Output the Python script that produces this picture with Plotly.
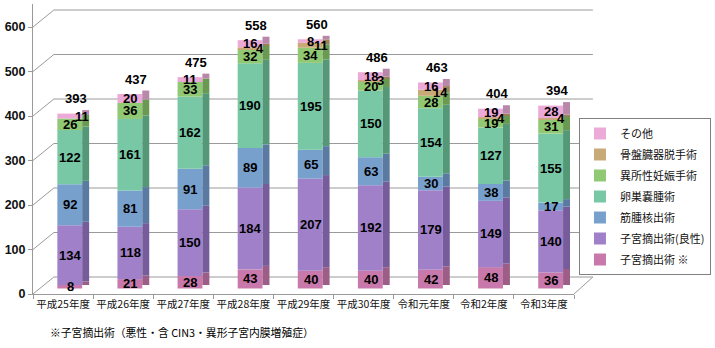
import plotly.graph_objects as go
import numpy as np

categories = ["平成25年度", "平成26年度", "平成27年度", "平成28年度", "平成29年度",
              "平成30年度", "令和元年度", "令和2年度", "令和3年度"]

series_names = ["子宮摘出術 ※", "子宮摘出術(良性)", "筋腫核出術", "卵巣嚢腫術",
                "異所性妊娠手術", "骨盤臓器脱手術", "その他"]

hyst_malignant = [8, 21, 28, 43, 40, 40, 42, 48, 36]
hyst_benign = [134, 118, 150, 184, 207, 192, 179, 149, 140]
myomectomy = [92, 81, 91, 89, 65, 63, 30, 38, 17]
ovarian_cyst = [122, 161, 162, 190, 195, 150, 154, 127, 155]
ectopic = [26, 36, 33, 32, 34, 20, 28, 19, 31]
pelvic_prolapse = [0, 0, 0, 4, 11, 3, 14, 4, 4]
other = [11, 20, 11, 16, 8, 18, 16, 19, 28]

totals = [393, 437, 475, 558, 560, 486, 463, 404, 394]

y_ticks = [0, 100, 200, 300, 400, 500, 600]

footnote = "※子宮摘出術（悪性・含 CIN3・異形子宮内膜増殖症）"

# ---- styling ----
front_colors = ["#C878AA", "#A080C8", "#78A0CD", "#78C8A5", "#91C873", "#C8AA78", "#EBAAD7"]
side_colors = ["#9C5E86", "#765C9A", "#5A7AA2", "#559878", "#6A9A52", "#9A8258", "#B888AA"]

series = [hyst_malignant, hyst_benign, myomectomy, ovarian_cyst, ectopic, pelvic_prolapse, other]

num_font = dict(family="Liberation Sans Narrow, Liberation Sans, Arial", size=13, color="#000000", weight="bold")
jp_font = "Noto Sans CJK JP"

K = 0.445            # px per unit
PLOT_H = 290
bar_r0 = -5.5 / K
label_range = [0, PLOT_H / K]
bar_range = [bar_r0, bar_r0 + PLOT_H / K]
BACK = 17 / K        # back wall offset in units
SIDE_LIFT = 3.5 / K

front_off, front_w = -0.095, 0.413
side_off, side_w = front_off + front_w, 0.116

fig = go.Figure()
bottoms = np.zeros(len(categories))
annotations = []
for idx, (name, vals) in enumerate(zip(series_names, series)):
    vals = np.array(vals, dtype=float)
    fig.add_trace(go.Bar(
        x=categories, y=vals, base=bottoms.copy(), name=name,
        marker=dict(color=front_colors[idx], line=dict(width=0)),
        width=front_w, offset=front_off, legendgroup=name, legendrank=100 - idx,
        hoverinfo="skip"))
    fig.add_trace(go.Bar(
        x=categories, y=vals, base=bottoms + SIDE_LIFT, name=name + "_side",
        marker=dict(color=side_colors[idx], line=dict(width=0)),
        width=side_w, offset=side_off, legendgroup=name, showlegend=False,
        legendrank=100 - idx, hoverinfo="skip"))
    for i, v in enumerate(vals):
        if v <= 0:
            continue
        xs = 7
        if idx == 5:
            xs = 17
        elif idx == 6 and i == 0:
            xs = 19
        annotations.append(dict(
            x=categories[i], y=bottoms[i] + v / 2, xref="x", yref="y",
            text=str(int(v)), showarrow=False, xshift=xs,
            font=num_font))
    bottoms = bottoms + vals

for i, t in enumerate(totals):
    annotations.append(dict(
        x=categories[i], y=bottoms[i], xref="x", yref="y", text=str(t),
        showarrow=False, xshift=13, yshift=15, font=num_font))

annotations.append(dict(
    x=(48 - 33) / 545, y=(294 - 332) / 290, xref="paper", yref="paper",
    xanchor="left", yanchor="middle", text=footnote, showarrow=False,
    font=dict(family=jp_font, size=10.8, color="#000000")))

# dummy trace to register label axis
fig.add_trace(go.Scatter(x=[], y=[], yaxis="y2", showlegend=False, hoverinfo="skip"))

shapes = []
gx0 = 21 / 545
gx1 = (597 - 33) / 545
for v in y_ticks:
    shapes.append(dict(type="line", xref="paper", yref="y2", x0=gx0, x1=gx1,
                       y0=v + BACK, y1=v + BACK, layer="below",
                       line=dict(color="#9A9A9A", width=1)))
    shapes.append(dict(type="line", xref="paper", yref="y2", x0=0, x1=gx0,
                       y0=v, y1=v + BACK, layer="below",
                       line=dict(color="#9A9A9A", width=1)))
shapes.append(dict(type="line", xref="paper", yref="y2", x0=1.0, x1=gx1,
                   y0=0, y1=BACK, layer="below", line=dict(color="#9A9A9A", width=1)))

fig.update_layout(
    width=715, height=348,
    margin=dict(l=33, r=137, t=4, b=54),
    paper_bgcolor="white", plot_bgcolor="white",
    barmode="overlay",
    showlegend=True,
    legend=dict(x=(583 - 33) / 545, y=(294 - 118) / 290, xanchor="left", yanchor="top",
                traceorder="grouped", tracegroupgap=2,
                bordercolor="#808080", borderwidth=1, bgcolor="white",
                itemwidth=30,
                font=dict(family=jp_font, size=11, color="#111111")),
    xaxis=dict(type="category", showline=True, linecolor="#9A9A9A", linewidth=1,
               ticks="outside", tickson="boundaries", ticklen=4, tickcolor="#9A9A9A",
               showgrid=False, zeroline=False, tickangle=0,
               tickfont=dict(family=jp_font, size=10.5, color="#111111")),
    yaxis=dict(range=bar_range, showgrid=False, zeroline=False, showticklabels=False,
               showline=False, ticks=""),
    yaxis2=dict(range=label_range, overlaying="y", side="left", anchor="x",
                tickvals=y_ticks, showgrid=False, zeroline=False,
                showline=True, linecolor="#9A9A9A", linewidth=1,
                ticks="outside", ticklen=4, tickcolor="#9A9A9A",
                tickfont=dict(family="Liberation Sans Narrow, Liberation Sans, Arial", size=12.5,
                              color="#111111", weight="bold")),
    annotations=annotations,
    shapes=shapes,
)

fig.write_html("out.html")
